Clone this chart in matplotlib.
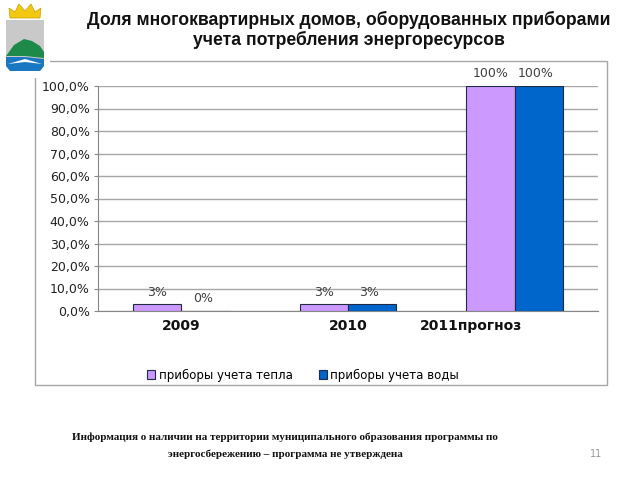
import numpy as np
import matplotlib.pyplot as plt
import matplotlib.transforms as mtransforms
from matplotlib.patches import Rectangle, Polygon

# --- данные ---
years = ["2009", "2010", "2011прогноз"]
teplo = [3, 3, 100]      # приборы учета тепла, %
voda = [0, 3, 100]       # приборы учета воды, %
teplo_labels = ["3%", "3%", "100%"]
voda_labels = ["0%", "3%", "100%"]
yticks = np.arange(0, 101, 10)

fig = plt.figure(figsize=(6.4, 4.8), dpi=100)
fig.patch.set_facecolor("white")


def px(xp, yp):
    # пиксели картинки -> доли фигуры
    return (xp / 640, 1 - yp / 480)


# --- рамка диаграммы ---
fig.add_artist(Rectangle(px(35, 385), 572 / 640, 324 / 480,
                         transform=fig.transFigure, fill=False,
                         edgecolor="#a6a6a6", linewidth=1.0))

# --- герб (упрощённо) ---
fig.add_artist(Polygon([px(4, 78), px(4, 20), px(50, 20), px(50, 78)],
                       closed=True, transform=fig.transFigure,
                       facecolor="white", edgecolor="none", zorder=4))
fig.add_artist(Polygon([px(6, 20), px(44, 20), px(44, 66), px(40, 71),
                        px(10, 71), px(6, 66)],
                       closed=True, transform=fig.transFigure,
                       facecolor="#c9c9c9", edgecolor="none", zorder=5))
fig.add_artist(Polygon([px(6, 56), px(14, 45), px(24, 39), px(32, 41),
                        px(40, 46), px(44, 52), px(44, 58), px(25, 56)],
                       closed=True, transform=fig.transFigure,
                       facecolor="#1e8a4a", edgecolor="none", zorder=6))
fig.add_artist(Polygon([px(6, 57), px(25, 57), px(44, 59), px(44, 66),
                        px(40, 71), px(10, 71), px(6, 66)],
                       closed=True, transform=fig.transFigure,
                       facecolor="#1a78c2", edgecolor="none", zorder=6))
fig.add_artist(Polygon([px(8, 64), px(25, 59), px(42, 64), px(25, 62)],
                       closed=True, transform=fig.transFigure,
                       facecolor="white", edgecolor="none", zorder=7))
fig.add_artist(Polygon([px(10, 18), px(9, 8), px(15, 12), px(19, 4),
                        px(25, 11), px(31, 4), px(35, 12), px(41, 8),
                        px(40, 18)],
                       closed=True, transform=fig.transFigure,
                       facecolor="#f2c811", edgecolor="#c9a000",
                       linewidth=0.5, zorder=6))

# --- заголовок ---
fig.text(349 / 640, 1 - 20 / 480,
         "Доля многоквартирных домов, оборудованных приборами",
         ha="center", va="center", fontsize=12.7, fontweight="bold",
         family="Liberation Sans", color="#111111")
fig.text(349 / 640, 1 - 40 / 480, "учета потребления энергоресурсов",
         ha="center", va="center", fontsize=12.7, fontweight="bold",
         family="Liberation Sans", color="#111111")

# --- оси ---
ax = fig.add_axes([98 / 640, 1 - 311 / 480, 500 / 640, 225 / 480])
x = np.arange(len(years))
w = 0.29

b1 = ax.bar(x - w / 2, teplo, w, color="#cc99ff", edgecolor="#1f2a44",
            linewidth=0.8, label="приборы учета тепла", zorder=3)
b2 = ax.bar(x + w / 2, voda, w, color="#0066cc", edgecolor="#1f2a44",
            linewidth=0.8, label="приборы учета воды", zorder=3)

for rect, lab in zip(b1, teplo_labels):
    ax.annotate(lab, (rect.get_x() + rect.get_width() / 2, rect.get_height()),
                xytext=(0, 4), textcoords="offset points", ha="center",
                va="bottom", fontsize=9, color="#404040")
for rect, lab in zip(b2, voda_labels):
    ax.annotate(lab, (rect.get_x() + rect.get_width() / 2, rect.get_height()),
                xytext=(-2, 4), textcoords="offset points", ha="center",
                va="bottom", fontsize=9, color="#404040")

ax.set_xlim(-0.5, len(years) - 0.5)
ax.set_ylim(0, 100)
ax.set_yticks(yticks)
ax.set_yticklabels([f"{v:.1f}%".replace(".", ",") for v in yticks],
                   fontsize=9, color="#222222")
ax.set_xticks(x)
ax.set_xticklabels(years, fontsize=10, fontweight="bold", color="#111111")
ax.tick_params(axis="x", length=0, pad=6)
ax.tick_params(axis="y", length=3, color="#888888", pad=3)

# подпись "2011прогноз" смещена влево, как в оригинале
lbl = ax.get_xticklabels()[2]
lbl.set_transform(lbl.get_transform() +
                  mtransforms.ScaledTranslation(-0.44, 0, fig.dpi_scale_trans))

ax.grid(axis="y", color="#a6a6a6", linewidth=1.0, zorder=0)
for s in ["top", "right"]:
    ax.spines[s].set_visible(False)
ax.spines["left"].set_color("#888888")
ax.spines["bottom"].set_color("#888888")

fig.legend(handles=[b1, b2], loc="center", bbox_to_anchor=(303 / 640, 1 - 375 / 480),
           ncol=2, frameon=False, fontsize=8.5, handlelength=0.7,
           handleheight=0.7, columnspacing=2.2, handletextpad=0.3)

# --- подвал ---
fig.text(285 / 640, 1 - 437 / 480,
         "Информация о наличии на территории муниципального образования программы по",
         ha="center", va="center", fontsize=8, fontweight="bold",
         family="Liberation Serif", color="#111111")
fig.text(285 / 640, 1 - 454 / 480,
         "энергосбережению – программа не утверждена",
         ha="center", va="center", fontsize=8, fontweight="bold",
         family="Liberation Serif", color="#111111")
fig.text(596 / 640, 1 - 454 / 480, "11", ha="center", va="center",
         fontsize=7, color="#999999")

fig.savefig("out.png", dpi=100)
